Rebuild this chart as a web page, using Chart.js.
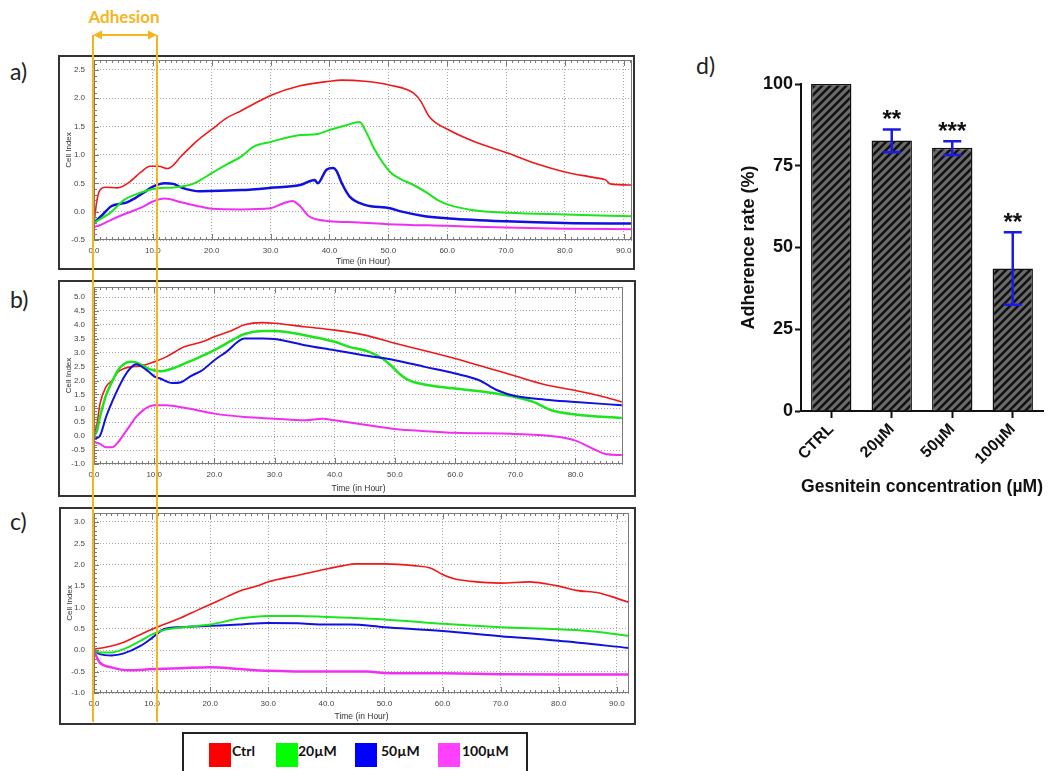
<!DOCTYPE html>
<html>
<head>
<meta charset="utf-8">
<script src="https://cdn.jsdelivr.net/npm/chart.js@4.4.1/dist/chart.umd.min.js"></script>
<style>
  body { margin: 0; width: 1053px; height: 771px; background: #fff; position: relative; overflow: hidden; font-family: Lato, sans-serif; }
  .box { position: absolute; border: 2px solid #333; box-sizing: border-box; background: #fff; }
  canvas { position: absolute; }
  .tag { position: absolute; font-size: 23px; color: #222; line-height: 26px; }
  .legend { position: absolute; left: 182px; top: 732px; width: 346px; height: 50px; border: 2px solid #222; box-sizing: border-box; }
  .sw { position: absolute; top: 9px; width: 22px; height: 24px; }
  .lt { position: absolute; top: 7px; font-weight: bold; font-size: 14px; line-height: 20px; color: #111; }
  .adh { position: absolute; left: 74px; top: 5px; width: 100px; text-align: center; font-weight: bold; font-size: 17px; line-height: 24px; color: #f5b521; }
</style>
</head>
<body>

<div class="adh">Adhesion</div>
<div class="tag" style="left:10px;top:58px">a)</div>
<div class="tag" style="left:10px;top:286px">b)</div>
<div class="tag" style="left:10px;top:508px">c)</div>
<div class="tag" style="left:696px;top:52px">d)</div>

<div class="box" style="left:58px;top:55px;width:577px;height:215px"></div>
<div class="box" style="left:58px;top:280px;width:578px;height:217px"></div>
<div class="box" style="left:59px;top:507px;width:577px;height:218px"></div>

<canvas id="panel-a" width="573" height="211" style="left:60px;top:57px"></canvas>
<canvas id="panel-b" width="574" height="213" style="left:60px;top:282px"></canvas>
<canvas id="panel-c" width="573" height="214" style="left:61px;top:509px"></canvas>
<canvas id="panel-d" width="319" height="432" style="left:734px;top:70px"></canvas>

<div class="legend">
  <div class="sw" style="left:25px;background:#ff0000"></div><div class="lt" style="left:48px">Ctrl</div>
  <div class="sw" style="left:92px;background:#00ff00"></div><div class="lt" style="left:114px">20µM</div>
  <div class="sw" style="left:171px;background:#0000ff"></div><div class="lt" style="left:197px">50µM</div>
  <div class="sw" style="left:254px;background:#ff40ff"></div><div class="lt" style="left:278px">100µM</div>
</div>

<svg width="1053" height="771" style="position:absolute;left:0;top:0;z-index:5;pointer-events:none">
  <line x1="93" y1="35" x2="93" y2="722" stroke="#f5b521" stroke-width="2"/>
  <line x1="157" y1="35" x2="157" y2="722" stroke="#f5b521" stroke-width="2"/>
  <line x1="98" y1="35" x2="152" y2="35" stroke="#f5b521" stroke-width="2"/>
  <polygon points="93,35 102,30.5 102,39.5" fill="#f5b521"/>
  <polygon points="157,35 148,30.5 148,39.5" fill="#f5b521"/>
</svg>

<script>
// panel a - cell index curves
const aTimeCtrl = [0, 0.5, 1, 2, 4, 6, 8, 9.5, 11, 12.5, 15, 17.5, 20, 22.5, 25, 27.5, 30, 35, 40, 42, 46, 50.3, 54.3, 55.5, 57, 60.3, 65, 70.4, 75.3, 80, 85, 86.9, 87.7, 91.5]
const aCtrl = [-0.2, 0.2, 0.38, 0.43, 0.42, 0.52, 0.7, 0.8, 0.8, 0.76, 1.0, 1.25, 1.45, 1.65, 1.78, 1.92, 2.05, 2.22, 2.3, 2.32, 2.3, 2.23, 2.09, 1.95, 1.67, 1.44, 1.22, 1.03, 0.84, 0.70, 0.6, 0.56, 0.49, 0.47]
const aTime20 = [0, 3, 5, 7, 10, 12, 14, 17, 20, 22.5, 25, 27, 30, 35, 38, 40, 43, 45.1, 46.5, 47.7, 50.3, 52, 54.3, 56.6, 58.5, 60.3, 64.2, 70.4, 80, 91.5]
const a20 = [-0.2, 0.0, 0.2, 0.3, 0.4, 0.42, 0.43, 0.5, 0.68, 0.83, 0.97, 1.14, 1.23, 1.35, 1.37, 1.44, 1.53, 1.58, 1.35, 1.09, 0.70, 0.58, 0.47, 0.33, 0.2, 0.12, 0.03, -0.02, -0.05, -0.08]
const aTime50 = [0, 1.5, 3, 4.5, 5.5, 7, 8.5, 10, 12, 13.5, 15, 18, 25, 30, 35, 37.5, 38, 39.5, 40.6, 41.2, 42.1, 43.4, 46, 50.3, 52.3, 56.2, 60.3, 70, 80, 91.5]
const a50 = [-0.2, -0.05, 0.1, 0.14, 0.16, 0.24, 0.34, 0.44, 0.5, 0.49, 0.42, 0.36, 0.38, 0.42, 0.47, 0.56, 0.5, 0.74, 0.77, 0.72, 0.5, 0.27, 0.12, 0.06, 0.0, -0.08, -0.12, -0.17, -0.2, -0.21]
const aTime100 = [0, 1, 3, 5, 8, 10, 12, 15, 18, 20, 25, 30, 32, 33.7, 35, 36.5, 38, 40, 45, 50, 60, 70, 80, 91.5]
const a100 = [-0.27, -0.24, -0.14, -0.05, 0.07, 0.18, 0.23, 0.16, 0.09, 0.05, 0.04, 0.06, 0.14, 0.19, 0.1, -0.08, -0.14, -0.17, -0.19, -0.22, -0.25, -0.28, -0.3, -0.31]

// panel b
const bTimeCtrl = [0, 0.5, 1, 2, 3, 4, 5, 6, 8, 10, 12, 15, 18, 20, 23, 25, 28, 30, 35, 40, 45, 50, 55, 60, 65, 70, 75, 80, 84, 87.7]
const bCtrl = [0.1, 0.45, 1.17, 1.77, 2.0, 2.31, 2.43, 2.49, 2.53, 2.67, 2.85, 3.21, 3.39, 3.57, 3.81, 4.0, 4.08, 4.06, 3.93, 3.81, 3.63, 3.34, 3.07, 2.79, 2.48, 2.16, 1.85, 1.64, 1.45, 1.23]
const bTime20 = [0, 0.5, 1, 2, 3, 4, 5, 6, 7, 8, 9, 10, 11, 13, 15, 17, 20, 23, 25, 28, 30, 35, 40, 42.4, 45.7, 47.9, 49.3, 50.7, 52.3, 55.6, 60, 65, 70, 73, 76, 80, 87.7]
const b20 = [0, 0.2, 0.69, 1.47, 1.95, 2.37, 2.59, 2.67, 2.65, 2.55, 2.43, 2.37, 2.33, 2.43, 2.61, 2.79, 3.09, 3.45, 3.67, 3.78, 3.78, 3.63, 3.39, 3.21, 3.03, 2.79, 2.55, 2.25, 2.01, 1.83, 1.71, 1.59, 1.41, 1.23, 0.93, 0.78, 0.65]
const bTime50 = [0, 1, 2, 3, 4, 5, 6, 7, 8, 9, 10, 11, 13, 14.5, 16, 18, 20, 22, 25, 28, 30, 35, 40, 45, 50, 55, 60, 64, 67, 70, 75, 80, 87.7]
const b50 = [-0.1, 0.02, 0.69, 1.23, 1.71, 2.13, 2.43, 2.58, 2.49, 2.33, 2.15, 2.07, 1.91, 1.94, 2.15, 2.37, 2.73, 3.03, 3.51, 3.51, 3.49, 3.27, 3.09, 2.9, 2.73, 2.49, 2.25, 2.01, 1.65, 1.44, 1.31, 1.23, 1.11]
const bTime100 = [0, 1, 2, 3, 4, 5, 6, 7, 8, 9, 10, 12, 15, 20, 25, 30, 35, 38, 40, 45, 50, 55, 60, 70, 77, 80, 83, 85, 87.7]
const b100 = [-0.2, -0.28, -0.4, -0.4, -0.22, 0.08, 0.39, 0.69, 0.9, 1.05, 1.11, 1.11, 1.02, 0.81, 0.69, 0.63, 0.57, 0.63, 0.57, 0.41, 0.26, 0.18, 0.12, 0.08, -0.02, -0.16, -0.46, -0.64, -0.68]

// panel c
const cTimeCtrl = [0, 3, 5, 8, 10, 12, 15, 18, 20, 23, 25, 28, 30, 35, 40, 43, 45, 50, 55, 58, 60, 62, 65, 70, 75, 78, 80, 83, 87, 89, 92.3]
const cCtrl = [0.02, 0.1, 0.18, 0.37, 0.49, 0.6, 0.76, 0.95, 1.07, 1.26, 1.38, 1.5, 1.6, 1.75, 1.9, 1.98, 2.02, 2.02, 1.98, 1.92, 1.77, 1.67, 1.61, 1.57, 1.6, 1.55, 1.5, 1.4, 1.34, 1.26, 1.11]
const cTime20 = [0, 1, 3, 5, 8, 10, 12, 15, 20, 25, 30, 35, 40, 44, 50, 60, 70, 80, 85, 88, 92.3]
const c20 = [0, -0.05, -0.05, 0.02, 0.22, 0.37, 0.47, 0.53, 0.6, 0.74, 0.8, 0.8, 0.78, 0.76, 0.72, 0.62, 0.54, 0.49, 0.45, 0.41, 0.33]
const cTime50 = [0, 1, 3, 5, 8, 10, 12, 15, 20, 25, 30, 35, 40, 44, 50, 60, 70, 80, 92.3]
const c50 = [0, -0.09, -0.12, -0.08, 0.1, 0.29, 0.49, 0.54, 0.57, 0.6, 0.64, 0.63, 0.6, 0.6, 0.54, 0.45, 0.33, 0.22, 0.05]
const cTime100 = [0, 0.5, 1, 3, 6, 10, 15, 20, 25, 30, 40, 47, 50, 60, 70, 80, 92.3]
const c100 = [0, -0.17, -0.29, -0.4, -0.47, -0.44, -0.42, -0.4, -0.44, -0.48, -0.5, -0.5, -0.53, -0.54, -0.56, -0.57, -0.57]

// panel d - adherence rate
const barLabels = ['CTRL', '20µM', '50µM', '100µM']
const barValues = [100, 82.7, 80.5, 43.6]
const errLow = [null, 79.1, 78.3, 32.5]
const errHigh = [null, 86.1, 82.5, 54.7]
const stars = ['', '**', '***', '**']

const colors = { ctrl: '#f01818', c20: '#1de51d', c50: '#1010e0', c100: '#f030f0' }

Chart.defaults.font.family = "'Liberation Sans', Arial, sans-serif"

const frameTicks = {
  id: 'frameTicks',
  afterDraw(chart) {
    const { ctx, chartArea: a, scales: { x, y } } = chart
    ctx.save()
    ctx.strokeStyle = '#7a7a7a'
    ctx.lineWidth = 1
    ctx.beginPath()
    for (let h = 0; h <= x.max; h++) {
      const px = Math.round(x.getPixelForValue(h)) + 0.5
      const len = h % 10 === 0 ? 6 : 3
      ctx.moveTo(px, a.bottom); ctx.lineTo(px, a.bottom - len)
      ctx.moveTo(px, a.top); ctx.lineTo(px, a.top + len)
    }
    for (let i = Math.ceil(y.min * 10); i <= y.max * 10; i++) {
      const py = Math.round(y.getPixelForValue(i / 10)) + 0.5
      const len = i % 5 === 0 ? 5 : 3
      ctx.moveTo(a.left, py); ctx.lineTo(a.left + len, py)
    }
    ctx.stroke()
    ctx.strokeRect(Math.round(a.left) + 0.5, Math.round(a.top) + 0.5, Math.round(a.width) - 1, Math.round(a.height) - 1)
    ctx.restore()
  }
}

const lineChart = (id, series, yMin, yMax, xMax, pad, yWidth, xHeight) => {
  const datasets = series.map(([times, values, color, width]) => ({
    data: times.map((t, i) => ({ x: t, y: values[i] })),
    borderColor: color,
    borderWidth: width,
    pointRadius: 0,
    cubicInterpolationMode: 'monotone',
    fill: false,
  }))

  new Chart(document.querySelector(`#${id}`), {
    type: 'line',
    data: { datasets },
    options: {
      responsive: false,
      animation: false,
      layout: { padding: pad },
      plugins: { legend: { display: false }, tooltip: { enabled: false } },
      scales: {
        x: {
          type: 'linear',
          min: 0,
          max: xMax,
          afterBuildTicks: s => { s.ticks = []; for (let v = 0; v <= xMax; v += 10) s.ticks.push({ value: v }) },
          afterFit: s => { s.height = xHeight; s.paddingLeft = 0; s.paddingRight = 0 },
          ticks: { callback: v => v.toFixed(1), font: { size: 8 }, color: '#444', padding: 6, maxRotation: 0, autoSkip: false },
          grid: { color: '#a8a8a8', drawTicks: false },
          border: { display: false, dash: [1, 2] },
          title: { display: true, text: 'Time (in Hour)', font: { size: 8.5 }, color: '#333', padding: { top: 0, bottom: 1 } },
        },
        y: {
          min: yMin,
          max: yMax,
          afterBuildTicks: s => { s.ticks = []; for (let v = yMin; v <= yMax + 1e-9; v += 0.5) s.ticks.push({ value: +v.toFixed(1) }) },
          afterFit: s => { s.width = yWidth; s.paddingTop = 0; s.paddingBottom = 0 },
          ticks: { callback: v => v.toFixed(1), font: { size: 8 }, color: '#444', padding: 9, autoSkip: false },
          grid: { color: '#a8a8a8', drawTicks: false },
          border: { display: false, dash: [1, 2] },
          title: { display: true, text: 'Cell Index', font: { size: 8 }, color: '#333', padding: { top: 4, bottom: 0 } },
        },
      },
    },
    plugins: [frameTicks],
  })
}

lineChart('panel-a', [
  [aTime100, a100, colors.c100, 2],
  [aTime20, a20, colors.c20, 2],
  [aTime50, a50, colors.c50, 2.5],
  [aTimeCtrl, aCtrl, colors.ctrl, 1.6],
], -0.5, 2.675, 91.4, { top: 3, right: 1, left: 0, bottom: 0 }, 34, 28)

lineChart('panel-b', [
  [bTime100, b100, colors.c100, 2],
  [bTime50, b50, colors.c50, 2],
  [bTime20, b20, colors.c20, 2.5],
  [bTimeCtrl, bCtrl, colors.ctrl, 1.6],
], -1.0, 5.36, 87.9, { top: 5, right: 11, left: 0, bottom: 0 }, 34, 31)

lineChart('panel-c', [
  [cTime100, c100, colors.c100, 2.5],
  [cTime20, c20, colors.c20, 2],
  [cTime50, c50, colors.c50, 2],
  [cTimeCtrl, cCtrl, colors.ctrl, 1.6],
], -1.0, 3.21, 92.1, { top: 4, right: 5, left: 0, bottom: 0 }, 33, 30)

// hatched fill for the bars
const hatch = (() => {
  const tile = document.createElement('canvas')
  tile.width = 8
  tile.height = 8
  const t = tile.getContext('2d')
  t.fillStyle = '#6a6a6a'
  t.fillRect(0, 0, 8, 8)
  t.strokeStyle = '#111'
  t.lineWidth = 2.6
  t.beginPath()
  t.moveTo(-2, 10); t.lineTo(10, -2)
  t.moveTo(-2, 2); t.lineTo(2, -2)
  t.moveTo(6, 10); t.lineTo(10, 6)
  t.stroke()
  return t.createPattern(tile, 'repeat')
})()

const errorBars = {
  id: 'errorBars',
  afterDatasetsDraw(chart) {
    const { ctx, scales: { x, y } } = chart
    ctx.save()
    barLabels.forEach((label, i) => {
      if (errHigh[i] == null) return
      const cx = x.getPixelForValue(i)
      const top = y.getPixelForValue(errHigh[i])
      const bot = y.getPixelForValue(errLow[i])
      ctx.strokeStyle = '#1a1ae6'
      ctx.lineWidth = 2.5
      ctx.beginPath()
      ctx.moveTo(cx, top); ctx.lineTo(cx, bot)
      ctx.moveTo(cx - 9, top); ctx.lineTo(cx + 9, top)
      ctx.moveTo(cx - 9, bot); ctx.lineTo(cx + 9, bot)
      ctx.stroke()
      ctx.fillStyle = '#111'
      ctx.font = "bold 24px 'Liberation Sans', Arial, sans-serif"
      ctx.textAlign = 'center'
      ctx.textBaseline = 'alphabetic'
      ctx.fillText(stars[i], cx, top - 2)
    })
    ctx.restore()
  }
}

new Chart(document.querySelector('#panel-d'), {
  type: 'bar',
  data: {
    labels: barLabels,
    datasets: [{
      data: barValues,
      backgroundColor: hatch,
      borderColor: '#111',
      borderWidth: 1.5,
      barPercentage: 0.667,
      categoryPercentage: 1,
    }],
  },
  options: {
    responsive: false,
    animation: false,
    layout: { padding: { top: 14, right: 10, left: 0, bottom: 0 } },
    plugins: { legend: { display: false }, tooltip: { enabled: false } },
    scales: {
      x: {
        afterFit: s => { s.height = 91 },
        grid: { drawOnChartArea: false, offset: false, tickLength: 7, tickWidth: 2, tickColor: '#111' },
        border: { color: '#111', width: 2 },
        ticks: { color: '#111', font: { size: 16, weight: 'bold' }, minRotation: 45, maxRotation: 45, padding: 2 },
        title: { display: true, text: 'Gesnitein concentration (µM)', color: '#111', font: { size: 18, weight: 'bold' }, padding: { top: 0, bottom: 4 } },
      },
      y: {
        min: 0,
        max: 100,
        afterFit: s => { s.width = 67 },
        ticks: { stepSize: 25, color: '#111', font: { size: 18, weight: 'bold' }, padding: 2 },
        grid: { drawOnChartArea: false, tickLength: 6, tickWidth: 2, tickColor: '#111' },
        border: { color: '#111', width: 2 },
        title: { display: true, text: 'Adherence rate (%)', color: '#111', font: { size: 18, weight: 'bold' }, padding: { top: 4, bottom: 0 } },
      },
    },
  },
  plugins: [errorBars],
})
</script>
</body>
</html>
